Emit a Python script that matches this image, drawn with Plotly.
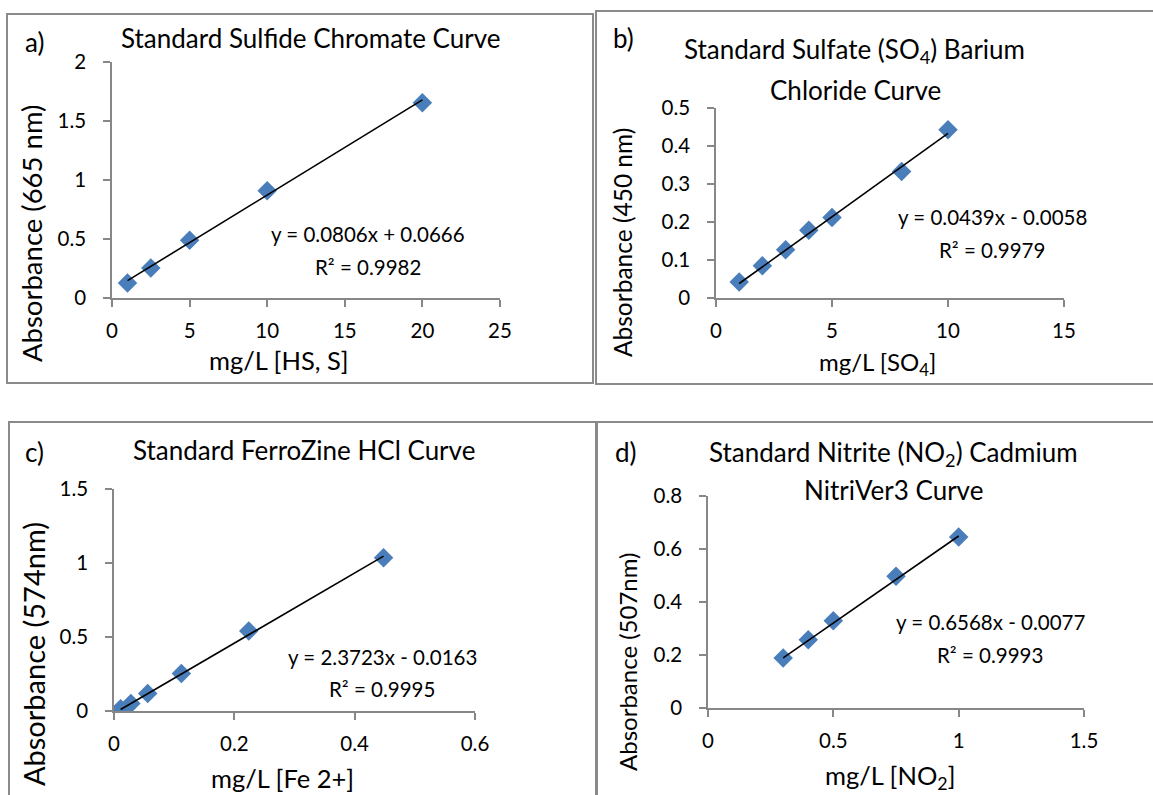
import plotly.graph_objects as go

W, H = 1153, 795
FONT = "Lato"

# ---------------- data ----------------
a_x = [1, 2.5, 5, 10, 20]
a_y = [0.127, 0.254, 0.49, 0.909, 1.655]
a_slope, a_int = 0.0806, 0.0666

b_x = [1, 2, 3, 4, 5, 8, 10]
b_y = [0.042, 0.085, 0.127, 0.178, 0.212, 0.333, 0.443]
b_slope, b_int = 0.0439, -0.0058

c_x = [0.011, 0.028, 0.056, 0.112, 0.224, 0.448]
c_y = [0.016, 0.05, 0.118, 0.253, 0.54, 1.036]
c_slope, c_int = 2.3723, -0.0163

d_x = [0.3, 0.4, 0.5, 0.75, 1.0]
d_y = [0.189, 0.258, 0.329, 0.497, 0.645]
d_slope, d_int = 0.6568, -0.0077

panels = [
    dict(key="a", x=a_x, y=a_y, m=a_slope, c=a_int,
         eq="y = 0.0806x + 0.0666", r2="R² = 0.9982",
         title=["Standard Sulfide Chromate Curve"],
         xt="mg/L [HS, S]", yt="Absorbance (665 nm)",
         xr=[0, 25], xd=5, yr=[0, 2], yd=0.5),
    dict(key="b", x=b_x, y=b_y, m=b_slope, c=b_int,
         eq="y = 0.0439x - 0.0058", r2="R² = 0.9979",
         title=["Standard Sulfate (SO<sub>4</sub>) Barium", "Chloride Curve"],
         xt="mg/L [SO<sub>4</sub>]", yt="Absorbance (450 nm)",
         xr=[0, 15], xd=5, yr=[0, 0.5], yd=0.1),
    dict(key="c", x=c_x, y=c_y, m=c_slope, c=c_int,
         eq="y = 2.3723x - 0.0163", r2="R² = 0.9995",
         title=["Standard FerroZine HCl Curve"],
         xt="mg/L [Fe 2+]", yt="Absorbance (574nm)",
         xr=[0, 0.6], xd=0.2, yr=[0, 1.5], yd=0.5),
    dict(key="d", x=d_x, y=d_y, m=d_slope, c=d_int,
         eq="y = 0.6568x - 0.0077", r2="R² = 0.9993",
         title=["Standard Nitrite (NO<sub>2</sub>) Cadmium", "NitriVer3 Curve"],
         xt="mg/L [NO<sub>2</sub>]", yt="Absorbance (507nm)",
         xr=[0, 1.5], xd=0.5, yr=[0, 0.8], yd=0.2),
]

# ---------------- layout (pixel geometry) ----------------
def px(x):
    return x / W

def py(y):
    return 1 - y / H

geom = {
    "a": dict(plot=(112, 500, 62, 298), box=(7, 593, 14, 383),
              title=[(310, 38)], lab=(34, 42), eq=(368, 234, 267),
              xtit=(278, 360, 25.5), ytit=(32, 234, 27.5)),
    "b": dict(plot=(716, 1064, 108, 298), box=(596, 1160, 11, 384),
              title=[(854, 51), (855, 90)], lab=(623, 38), eq=(992, 217, 250),
              xtit=(877, 363, 24), ytit=(623, 243, 24.5)),
    "c": dict(plot=(114, 475, 489, 711), box=(9, 596, 422, 800),
              title=[(304, 450)], lab=(34, 452), eq=(382, 657, 689),
              xtit=(282, 778, 25.5), ytit=(33, 654, 29)),
    "d": dict(plot=(708, 1084, 496, 708), box=(597, 1160, 422, 800),
              title=[(893, 453), (893, 490)], lab=(626, 452), eq=(990, 622, 655),
              xtit=(890, 777, 25.5), ytit=(627, 662, 24)),
}

fig = go.Figure()
annotations = []
shapes = []
AX = "#878787"
BLUE = "#4A7EBB"

def note(text, x, y, size, angle=0):
    return dict(text=text, x=px(x), y=py(y), xref="paper", yref="paper",
                showarrow=False, xanchor="center", yanchor="middle",
                textangle=angle,
                font=dict(family=FONT, size=size, color="black"))

for i, p in enumerate(panels, start=1):
    g = geom[p["key"]]
    x0, x1, y0, y1 = g["plot"]
    xa = "x" if i == 1 else f"x{i}"
    ya = "y" if i == 1 else f"y{i}"
    fig.add_trace(go.Scatter(
        x=p["x"], y=p["y"], mode="markers", xaxis=xa, yaxis=ya,
        marker=dict(symbol="diamond", size=15, color=BLUE,
                    line=dict(width=0)),
        showlegend=False, hoverinfo="x+y"))
    xs = [min(p["x"]), max(p["x"])]
    ys = [p["m"] * v + p["c"] for v in xs]
    fig.add_trace(go.Scatter(
        x=xs, y=ys, mode="lines", xaxis=xa, yaxis=ya,
        line=dict(color="black", width=1.6), showlegend=False,
        hoverinfo="skip"))

    axis_common = dict(showgrid=False, zeroline=False, showline=True,
                       linecolor=AX, linewidth=1.5, ticks="outside",
                       ticklen=7, tickcolor=AX, tickwidth=1.5,
                       tickfont=dict(family=FONT, size=20.5, color="black"),
                       fixedrange=True, automargin=False)
    fig.update_layout(**{
        ("xaxis" if i == 1 else f"xaxis{i}"): dict(
            axis_common, domain=[px(x0), px(x1)], range=p["xr"],
            tick0=0, dtick=p["xd"], anchor=ya, ticklabelstandoff=7),
        ("yaxis" if i == 1 else f"yaxis{i}"): dict(
            axis_common, domain=[py(y1), py(y0)], range=p["yr"],
            tick0=0, dtick=p["yd"], anchor=xa, ticklabelstandoff=13),
    })

    bx0, bx1, by0, by1 = g["box"]
    shapes.append(dict(type="rect", xref="paper", yref="paper",
                       x0=px(bx0), x1=px(bx1), y0=py(by1), y1=py(by0),
                       line=dict(color="#8a8a8a", width=2)))

    for line_text, (tx, ty) in zip(p["title"], g["title"]):
        annotations.append(note(line_text, tx, ty, 26))
    lx, ly = g["lab"]
    annotations.append(note(p["key"] + ")", lx, ly, 26))
    ex, ey1, ey2 = g["eq"]
    annotations.append(note(p["eq"], ex, ey1, 20.5))
    annotations.append(note(p["r2"], ex, ey2, 20.5))
    xtx, xty, xs_ = g["xtit"]
    annotations.append(note(p["xt"], xtx, xty, xs_))
    ytx, yty, ys_ = g["ytit"]
    annotations.append(note(p["yt"], ytx, yty, ys_, angle=-90))

fig.update_layout(
    width=W, height=H, margin=dict(l=0, r=0, t=0, b=0, autoexpand=False),
    paper_bgcolor="white", plot_bgcolor="white",
    annotations=annotations, shapes=shapes,
    font=dict(family=FONT, color="black"),
)

fig.write_html("out.html", config={"displayModeBar": False})
